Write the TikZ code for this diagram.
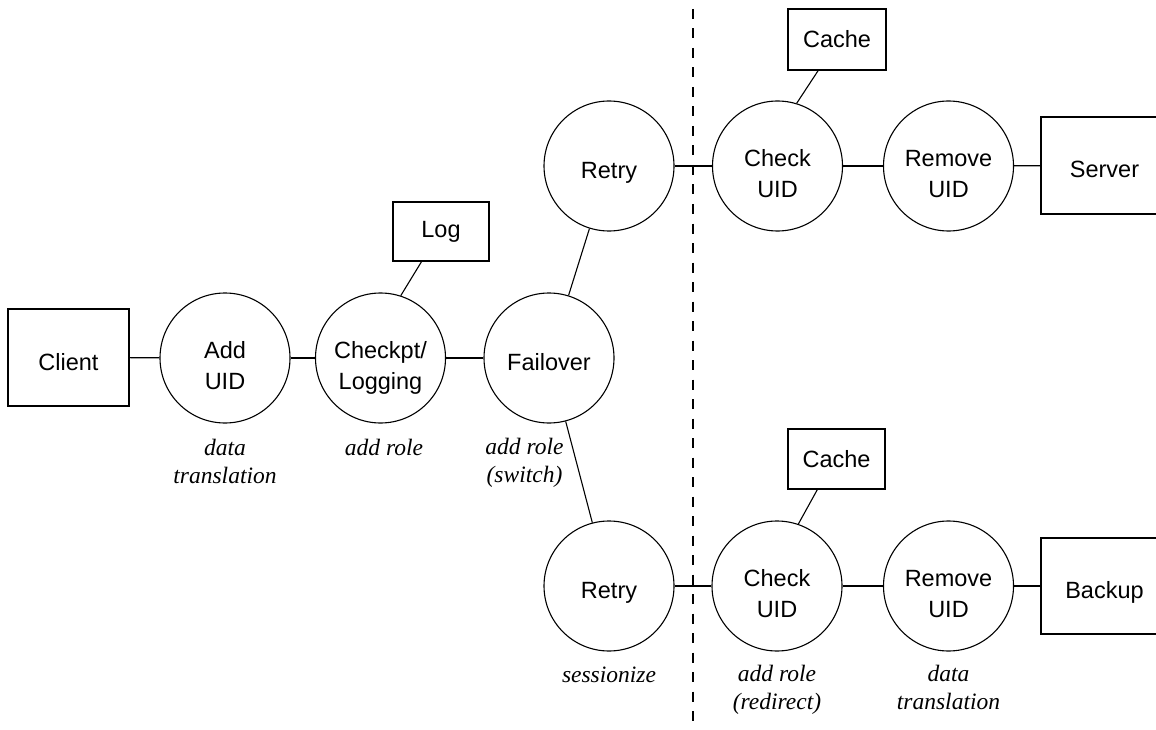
\documentclass[tikz,border=0pt]{standalone}
\usepackage{fontspec}
\setmainfont{Liberation Serif}
\setsansfont{Liberation Sans}
\usetikzlibrary{calc}

\begin{document}
\begin{tikzpicture}[x=1pt,y=-1pt,line width=1.1pt,
  sans/.style={font=\sffamily\fontsize{23.5}{31}\selectfont},
  proc/.style={circle,draw,minimum size=130pt,inner sep=0pt,align=center,sans},
  unit/.style={rectangle,draw,inner sep=0pt,align=center,sans},
  % fixed text boxes so that the last baseline sits a set distance below the centre
  oneline/.style={text height=25pt,text depth=0pt},
  twoline/.style={text height=62pt,text depth=0pt},
  note/.style={anchor=base,align=center,
    font=\itshape\fontsize{23.5}{28}\selectfont}]
\useasboundingbox (0,0) rectangle (1156,730);

% left chain
\node[unit,oneline,minimum width=121pt,minimum height=97pt] (client) at (68.5,357.5) {Client};
\node[proc,twoline] (adduid) at (225,358) {Add\\UID};
\node[proc,twoline] (ckpt) at (380.5,358) {Checkpt/\\Logging};
\node[proc,oneline] (fail) at (549,358) {Failover};
\node[unit,minimum width=96pt,minimum height=59pt] (log) at (441,231.5) {Log};

% primary path
\node[proc,oneline] (retryA) at (609,166) {Retry};
\node[proc,twoline] (checkA) at (777.5,166) {Check\\UID};
\node[proc,twoline] (removeA) at (948.5,166) {Remove\\UID};
\node[unit,oneline,minimum width=127pt,minimum height=97pt] (server) at (1104.5,165.5) {Server};
\node[unit,minimum width=98pt,minimum height=61pt] (cacheA) at (837,39.5) {Cache};

% backup path
\node[proc,oneline] (retryB) at (609,586) {Retry};
\node[proc,twoline] (checkB) at (777,586) {Check\\UID};
\node[proc,twoline] (removeB) at (948.5,586) {Remove\\UID};
\node[unit,oneline,minimum width=127pt,minimum height=96pt] (backup) at (1104.5,586) {Backup};
\node[unit,minimum width=97pt,minimum height=60pt] (cacheB) at (836.5,459) {Cache};

% connectors
\draw (client) -- (adduid);
\draw (adduid) -- (ckpt);
\draw (ckpt) -- (fail);
\draw (fail) -- (retryA);
\draw (fail) -- (retryB);
\draw (retryA) -- (checkA);
\draw (checkA) -- (removeA);
\draw (removeA) -- (server);
\draw (retryB) -- (checkB);
\draw (checkB) -- (removeB);
\draw (removeB) -- (backup);
\draw (ckpt.72) -- ($(log.south west)!0.3!(log.south east)$);
\draw (checkA.73) -- ($(cacheA.south west)!0.31!(cacheA.south east)$);
\draw (checkB.71) -- ($(cacheB.south west)!0.305!(cacheB.south east)$);

% boundary
\coordinate (bndTop) at (693,9);
\coordinate (bndBot) at (693,731);
\draw[dash pattern=on 10pt off 9.5pt] (bndTop) -- (bndBot);

% annotations (anchored at the baseline of the last line)
\node[note] (nA) at (225,483) {data\\translation};
\node[note] (nB) at (384,455) {add role};
\node[note] (nC) at (524.5,482) {add role\\(switch)};
\node[note] (nD) at (609,682) {sessionize};
\node[note] (nE) at (777,709) {add role\\(redirect)};
\node[note] (nF) at (948.5,709) {data\\translation};
\end{tikzpicture}
\end{document}
